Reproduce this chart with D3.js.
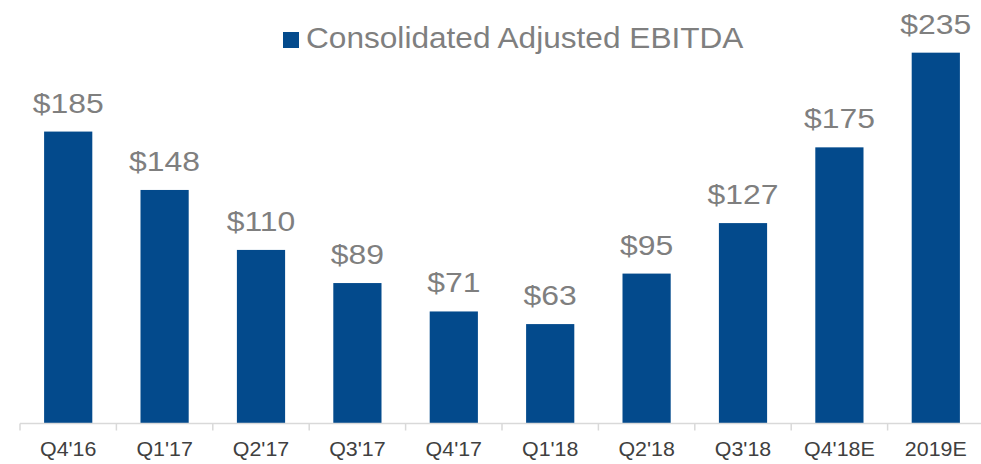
<!DOCTYPE html>
<html>
<head>
<meta charset="utf-8">
<script src="https://cdn.jsdelivr.net/npm/d3@7"></script>
<style>
  html, body { margin: 0; padding: 0; background: #ffffff; }
  svg { display: block; }
  text { font-family: "Liberation Sans", Arial, sans-serif; }
</style>
</head>
<body>
<svg id="chart" width="981" height="464"></svg>
<script>
const categories = ["Q4'16", "Q1'17", "Q2'17", "Q3'17", "Q4'17", "Q1'18", "Q2'18", "Q3'18", "Q4'18E", "2019E"];
const values = [185, 148, 110, 89, 71, 63, 95, 127, 175, 235];
const seriesName = "Consolidated Adjusted EBITDA";

const barColor = "#034a8c";
const labelColor = "#7f7f7f";
const axisTextColor = "#404040";
const axisColor = "#d9d9d9";

const svg = d3.select("#chart");

const x = d3.scaleBand().domain(categories).range([20, 984]).paddingInner(0.5).paddingOuter(0.25);
const y = d3.scaleLinear().domain([0, 250]).range([423.5, 29]);

// bars
svg.append("g").selectAll("rect")
  .data(values)
  .join("rect")
  .attr("x", (d, i) => x(categories[i]))
  .attr("width", x.bandwidth())
  .attr("y", d => y(d))
  .attr("height", d => y(0) - y(d))
  .attr("fill", barColor);

// value labels
svg.append("g").selectAll("text")
  .data(values)
  .join("text")
  .attr("transform", (d, i) => `translate(${x(categories[i]) + x.bandwidth() / 2},${y(d) - 19}) scale(1.14,1)`)
  .attr("text-anchor", "middle")
  .attr("font-size", 28)
  .attr("fill", labelColor)
  .text(d => "$" + d);

// axis
const step = x.step();
const axisG = svg.append("g");
axisG.append("line")
  .attr("x1", 20).attr("x2", 981)
  .attr("y1", y(0)).attr("y2", y(0))
  .attr("stroke", axisColor).attr("stroke-width", 1.5);
const boundaries = categories.map((c, i) => x(c) - x.bandwidth() * 0.5);
axisG.selectAll("line.tick")
  .data(boundaries)
  .join("line")
  .attr("class", "tick")
  .attr("x1", d => d).attr("x2", d => d)
  .attr("y1", y(0)).attr("y2", y(0) + 7)
  .attr("stroke", axisColor).attr("stroke-width", 1.5);
axisG.selectAll("text")
  .data(categories)
  .join("text")
  .attr("transform", d => `translate(${x(d) + x.bandwidth() / 2},456) scale(1.07,1)`)
  .attr("text-anchor", "middle")
  .attr("font-size", 20)
  .attr("fill", axisTextColor)
  .text(d => d);

// legend
const legend = svg.append("g");
legend.append("rect")
  .attr("x", 283).attr("y", 32).attr("width", 16).attr("height", 16)
  .attr("fill", barColor);
legend.append("text")
  .attr("transform", "translate(306,48) scale(1.09,1)")
  .attr("font-size", 29)
  .attr("fill", labelColor)
  .text(seriesName);
</script>
</body>
</html>
